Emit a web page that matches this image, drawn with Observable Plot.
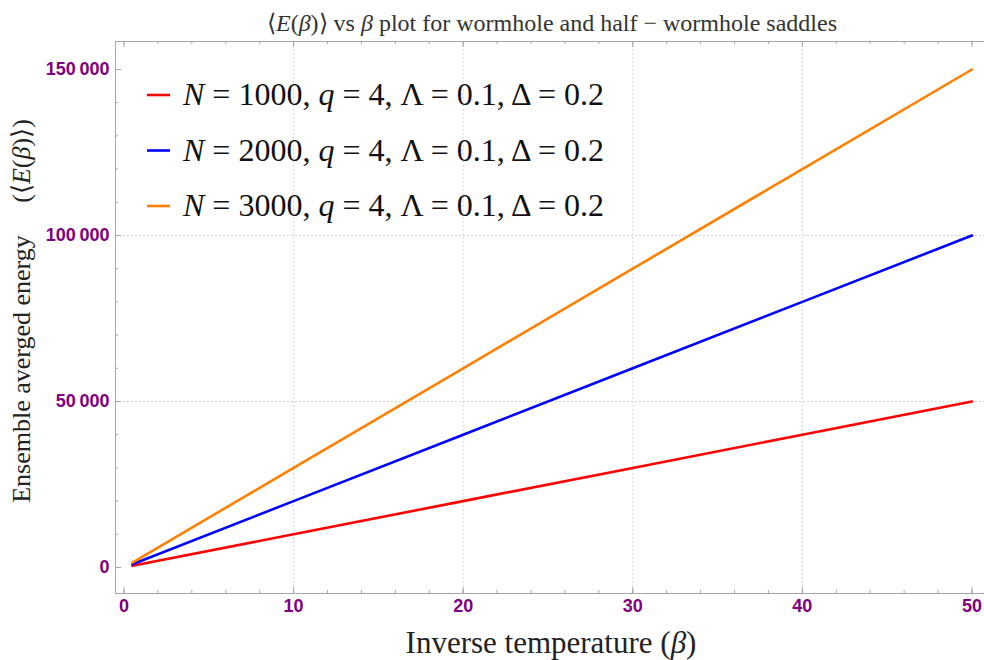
<!DOCTYPE html>
<html><head><meta charset="utf-8">
<script src="https://cdn.jsdelivr.net/npm/d3@7"></script>
<script src="https://cdn.jsdelivr.net/npm/@observablehq/plot@0.6"></script>
<style>body{margin:0;background:#fff}</style>
</head><body><div id="chart"></div>
<script>
// ---- data ----
const beta = [0.5, 10, 20, 30, 40, 50];
const energyN1000 = [500, 10000, 20000, 30000, 40000, 50000];
const energyN2000 = [1000, 20000, 40000, 60000, 80000, 100000];
const energyN3000 = [1500, 30000, 60000, 90000, 120000, 150000];
const seriesN = ["1000", "2000", "3000"];
const seriesColors = ["#ff0000", "#0000ff", "#ff8000"];
const xTicks = [0, 10, 20, 30, 40, 50];
const xMinorTicks = [0,2,4,6,8,10,12,14,16,18,20,22,24,26,28,30,32,34,36,38,40,42,44,46,48,50];
const yTicks = [0, 50000, 100000, 150000];
const yTickLabels = ["0", "50\u2009000", "100\u2009000", "150\u2009000"];
const yMinorTicks = [0,10000,20000,30000,40000,50000,60000,70000,80000,90000,100000,110000,120000,130000,140000,150000];
const xGrid = [10, 20, 30, 40];
const yGrid = [50000, 100000];

const seriesValues = [energyN1000, energyN2000, energyN3000];
const rows = [];
seriesValues.forEach((vals, s) => vals.forEach((v, i) => rows.push({beta: beta[i], E: v, N: seriesN[s]})));

const W = 984, H = 660, mL = 115, mR = 0, mT = 41, mB = 67;
const fw = W - mL - mR, fh = H - mT - mB;
const frameColor = "#a6a6a6";
const tickColor = "#a6a6a6";
const purple = "#800080";

const chart = Plot.plot({
  width: W, height: H,
  marginLeft: mL, marginRight: mR, marginTop: mT, marginBottom: mB,
  style: {background: "#fff", overflow: "visible"},
  x: {domain: [-0.5, 50.74]},
  y: {domain: [-7831, 158434]},
  color: {domain: seriesN, range: seriesColors},
  marks: [
    Plot.gridX(xGrid, {stroke: "#c8c8c8", strokeOpacity: 1, strokeDasharray: "1.5,2.5"}),
    Plot.gridY(yGrid, {stroke: "#c8c8c8", strokeOpacity: 1, strokeDasharray: "1.5,2.5"}),
    Plot.frame({stroke: frameColor, insetRight: -3}),
    // bottom ticks
    Plot.ruleX(xMinorTicks, {stroke: tickColor, insetTop: fh - 3}),
    Plot.ruleX(xTicks, {stroke: tickColor, insetTop: fh - 6}),
    // top ticks
    Plot.ruleX(xMinorTicks, {stroke: tickColor, insetBottom: fh - 3}),
    Plot.ruleX(xTicks, {stroke: tickColor, insetBottom: fh - 6}),
    // left ticks
    Plot.ruleY(yMinorTicks, {stroke: tickColor, insetRight: fw - 3}),
    Plot.ruleY(yTicks, {stroke: tickColor, insetRight: fw - 6}),
    Plot.axisX(xTicks, {tickSize: 0, tickPadding: 6, fontSize: 18, fontWeight: "bold", fill: purple, fontFamily: "Liberation Sans, Arial, sans-serif", label: null}),
    Plot.axisY(yTicks, {tickSize: 0, tickPadding: 6, fontSize: 18, fontWeight: "bold", fill: purple, fontFamily: "Liberation Sans, Arial, sans-serif", label: null,
      tickFormat: d => yTickLabels[yTicks.indexOf(d)]}),
    Plot.line(rows, {x: "beta", y: "E", stroke: "N", z: "N", strokeWidth: 2.6})
  ]
});
document.getElementById("chart").appendChild(chart);

const svg = d3.select(chart);
const serif = "'Liberation Serif', 'Times New Roman', serif";

// title
const title = svg.append("text").attr("x", 552).attr("y", 31).attr("text-anchor", "middle")
  .attr("font-family", serif).attr("font-size", 24).attr("fill", "#333");
title.append("tspan").text("\u27E8");
title.append("tspan").attr("font-style", "italic").text("E");
title.append("tspan").text("(");
title.append("tspan").attr("font-style", "italic").text("\u03B2");
title.append("tspan").text(")\u27E9 vs ");
title.append("tspan").attr("font-style", "italic").text("\u03B2");
title.append("tspan").text(" plot for wormhole and half \u2212 wormhole saddles");

// x label
const xl = svg.append("text").attr("x", 551).attr("y", 653).attr("text-anchor", "middle")
  .attr("font-family", serif).attr("font-size", 31).attr("fill", "#222");
xl.append("tspan").text("Inverse temperature (");
xl.append("tspan").attr("font-style", "italic").text("\u03B2");
xl.append("tspan").text(")");

// y label
const yl = svg.append("text").attr("transform", "translate(30,311) rotate(-90)").attr("text-anchor", "middle")
  .attr("font-family", serif).attr("font-size", 26).attr("fill", "#222");
yl.append("tspan").text("Ensemble averged energy \u2003(\u27E8");
yl.append("tspan").attr("font-style", "italic").text("E");
yl.append("tspan").text("(");
yl.append("tspan").attr("font-style", "italic").text("\u03B2");
yl.append("tspan").text(")\u27E9)");

// legend
const legendY = [95, 150.5, 206];
seriesN.forEach((n, i) => {
  const g = svg.append("g");
  g.append("line").attr("x1", 147).attr("x2", 170).attr("y1", legendY[i]).attr("y2", legendY[i])
    .attr("stroke", seriesColors[i]).attr("stroke-width", 2.6);
  const t = g.append("text").attr("x", 183).attr("y", legendY[i] + 10).attr("text-anchor", "start")
    .attr("font-family", serif).attr("font-size", 32).attr("fill", "#111");
  t.append("tspan").attr("font-style", "italic").text("N");
  t.append("tspan").text(" = " + n + ", ");
  t.append("tspan").attr("font-style", "italic").text("q");
  t.append("tspan").text(" = 4, \u039B = 0.1, \u0394 = 0.2");
});
</script>
</body></html>
